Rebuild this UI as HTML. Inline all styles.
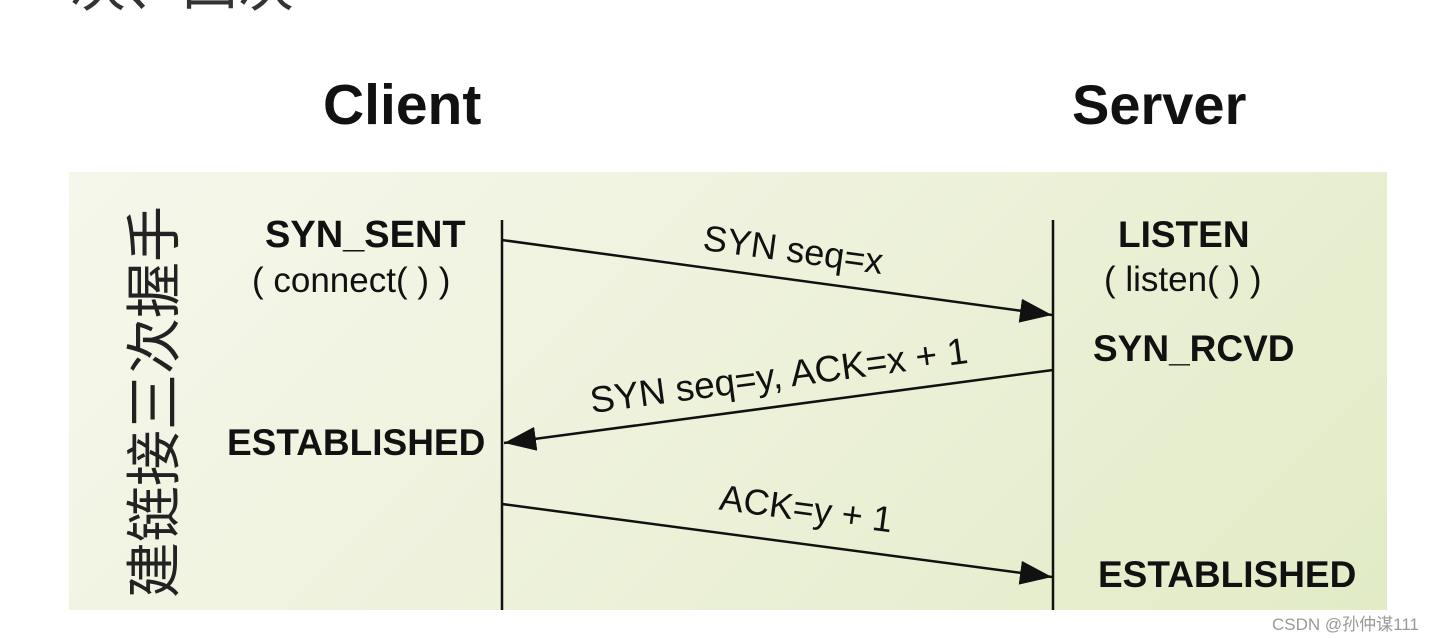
<!DOCTYPE html>
<html><head><meta charset="utf-8"><style>
body{margin:0;width:1438px;height:638px;background:#fff;position:relative;overflow:hidden;font-family:"Liberation Sans","Noto Sans CJK SC",sans-serif;}
.t{position:absolute;white-space:nowrap;color:#111;}
.b{font-weight:bold;}
</style></head><body>
<div class="t" style="left:70px;top:-58px;font-size:56px;color:#333;">次、四次</div>
<div class="t b" style="left:323px;top:72px;font-size:57px;">Client</div>
<div class="t b" style="left:1072px;top:72px;font-size:56px;">Server</div>
<div style="position:absolute;left:69px;top:172px;width:1318px;height:438px;background:linear-gradient(135deg,#f6f7ec 0%,#eef2dc 45%,#e2ebc6 100%);"></div>
<div class="t" style="left:155px;top:402px;font-size:56px;line-height:60px;color:#222;transform:translate(-50%,-50%) rotate(-90deg);">建链接三次握手</div>
<svg style="position:absolute;left:0;top:0" width="1438" height="638">
<defs><marker id="m" markerWidth="32" markerHeight="24" refX="32" refY="12" orient="auto" markerUnits="userSpaceOnUse"><path d="M0,0L32,12L0,24z" fill="#111"/></marker></defs>
<line x1="502" y1="220" x2="502" y2="610" stroke="#111" stroke-width="2.5"/>
<line x1="1053" y1="220" x2="1053" y2="610" stroke="#111" stroke-width="2.5"/>
<line x1="502" y1="240" x2="1052" y2="315" stroke="#111" stroke-width="2.5" marker-end="url(#m)"/>
<line x1="1053" y1="370" x2="504" y2="443" stroke="#111" stroke-width="2.5" marker-end="url(#m)"/>
<line x1="502" y1="504" x2="1052" y2="577" stroke="#111" stroke-width="2.5" marker-end="url(#m)"/>
<g font-family="Liberation Sans, sans-serif" font-size="36" fill="#111">
<text x="793" y="262" text-anchor="middle" transform="rotate(7.7 793 252)">SYN seq=x</text>
<text x="779" y="388" text-anchor="middle" font-size="37" transform="rotate(-7.6 779 377)">SYN seq=y, ACK=x + 1</text>
<text x="806" y="521" text-anchor="middle" transform="rotate(7.6 806 510)">ACK=y + 1</text>
</g>
</svg>
<div class="t b" style="left:265px;top:214px;font-size:38px;">SYN_SENT</div>
<div class="t" style="left:252px;top:261px;font-size:35px;">( connect( ) )</div>
<div class="t b" style="left:227px;top:422px;font-size:37px;">ESTABLISHED</div>
<div class="t b" style="left:1118px;top:214px;font-size:37px;">LISTEN</div>
<div class="t" style="left:1104px;top:260px;font-size:35px;">( listen( ) )</div>
<div class="t b" style="left:1093px;top:328px;font-size:37px;">SYN_RCVD</div>
<div class="t b" style="left:1098px;top:554px;font-size:37px;">ESTABLISHED</div>
<div class="t" style="left:1272px;top:610px;font-size:17px;color:#999;">CSDN @孙仲谋111</div>
</body></html>
